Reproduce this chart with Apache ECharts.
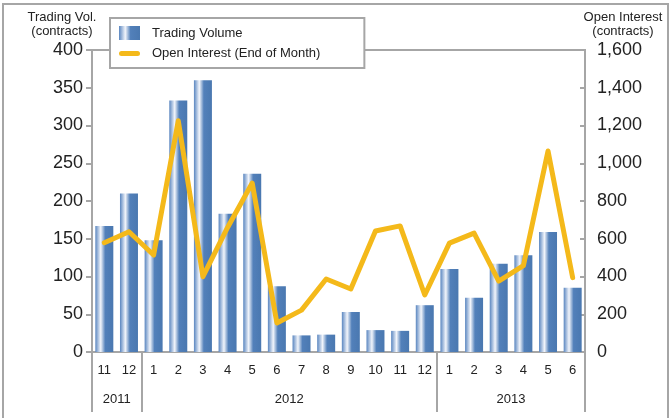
<!DOCTYPE html>
<html>
<head>
<meta charset="utf-8">
<script src="https://cdn.jsdelivr.net/npm/echarts@6/dist/echarts.min.js"></script>
<style>
  html, body { margin: 0; padding: 0; background: #fff; }
  #chart { width: 671px; height: 418px; }
</style>
</head>
<body>
<div id="chart"></div>
<script>
// months from 2011/11 to 2013/6
const months = ['11', '12', '1', '2', '3', '4', '5', '6', '7', '8', '9', '10', '11', '12', '1', '2', '3', '4', '5', '6'];
const tradingVolume = [167, 210, 148, 333, 360, 183, 236, 87, 22, 23, 53, 29, 28, 62, 110, 72, 117, 128, 159, 85];
const openInterest = [579, 637, 514, 1225, 399, 660, 895, 154, 222, 387, 334, 641, 668, 302, 577, 630, 376, 457, 1065, 394];
// year groups: label, first index, last index + 1
const years = ['2011', '2012', '2013'];
const yearStart = [0, 2, 14];
const yearEnd = [2, 14, 20];

const font = '"Liberation Sans", Arial, sans-serif';
const axisGray = '#a6a6a6';
const lineColor = '#f4b91a';

const yearCenters = years.map((y, i) => (yearStart[i] + yearEnd[i]) / 2);
const yearBounds = [0].concat(yearEnd);

const barGradient = new echarts.graphic.LinearGradient(0, 0, 1, 0, [
  { offset: 0, color: '#5a86c0' },
  { offset: 0.3, color: '#f2f5fb' },
  { offset: 0.55, color: '#5280ba' },
  { offset: 1, color: '#4a78b0' }
]);

let myChart = echarts.init(document.getElementById('chart'));
let option = {
  animation: false,
  textStyle: { fontFamily: font },
  graphic: [
    {
      type: 'rect',
      shape: { x: 3, y: 4, width: 665, height: 430 },
      style: { fill: 'none', stroke: axisGray, lineWidth: 2 },
      silent: true,
      z: -1
    }
  ],
  grid: {
    left: 92,
    right: 86,
    top: 50,
    bottom: 66,
    show: true,
    borderColor: axisGray,
    borderWidth: 2
  },
  legend: {
    left: 110,
    top: 18,
    orient: 'vertical',
    backgroundColor: '#fff',
    borderColor: axisGray,
    borderWidth: 2,
    padding: [8, 44, 8, 9],
    itemGap: 7,
    itemWidth: 21,
    itemHeight: 14,
    textStyle: { fontSize: 13, color: '#222', fontFamily: font, padding: [0, 0, 0, 7] },
    data: [
      { name: 'Trading Volume', icon: 'rect' },
      {
        name: 'Open Interest (End of Month)',
        icon: 'path://M2.5,0 L18.5,0 A2.5,2.5 0 0 1 18.5,5 L2.5,5 A2.5,2.5 0 0 1 2.5,0 Z',
        itemStyle: { color: lineColor, borderWidth: 0 }
      }
    ],
    z: 10
  },
  xAxis: [
    {
      type: 'category',
      data: months,
      axisLine: { lineStyle: { color: axisGray, width: 2 } },
      axisTick: { interval: 0, length: 30, lineStyle: { color: axisGray, width: 2 } },
      axisLabel: { interval: 0, margin: 12, fontSize: 13, color: '#222' }
    },
    {
      type: 'value',
      min: 0,
      max: months.length,
      position: 'bottom',
      axisLine: { show: false },
      splitLine: { show: false },
      axisTick: {
        show: true,
        length: 60,
        customValues: yearBounds,
        lineStyle: { color: axisGray, width: 2 }
      },
      axisLabel: {
        customValues: yearCenters,
        margin: 41,
        fontSize: 13,
        color: '#222',
        formatter: function (v) {
          const i = yearCenters.indexOf(v);
          return i >= 0 ? years[i] : '';
        }
      }
    }
  ],
  yAxis: [
    {
      type: 'value',
      min: 0,
      max: 400,
      interval: 50,
      name: 'Trading Vol.\n(contracts)',
      nameLocation: 'end',
      nameGap: 12,
      nameTextStyle: { fontSize: 13, color: '#222', lineHeight: 14, align: 'center', padding: [0, 60, 0, 0] },
      axisLine: { show: true, lineStyle: { color: axisGray, width: 2 } },
      axisTick: { show: true, length: 6, lineStyle: { color: axisGray, width: 2 } },
      axisLabel: { margin: 9, fontSize: 18, color: '#222' },
      splitLine: { show: false }
    },
    {
      type: 'value',
      min: 0,
      max: 1600,
      interval: 200,
      name: 'Open Interest\n(contracts)',
      nameLocation: 'end',
      nameGap: 12,
      nameTextStyle: { fontSize: 13, color: '#222', lineHeight: 14, align: 'center', padding: [0, 0, 0, 76] },
      axisLine: { show: true, lineStyle: { color: axisGray, width: 2 } },
      axisTick: { show: true, inside: true, length: 5, lineStyle: { color: axisGray, width: 2 } },
      axisLabel: { margin: 12, fontSize: 18, color: '#222' },
      splitLine: { show: false }
    }
  ],
  series: [
    {
      name: 'Trading Volume',
      type: 'bar',
      data: tradingVolume,
      barCategoryGap: '27%',
      itemStyle: { color: barGradient }
    },
    {
      name: 'Open Interest (End of Month)',
      type: 'line',
      yAxisIndex: 1,
      data: openInterest,
      symbol: 'none',
      lineStyle: { color: lineColor, width: 5, cap: 'round', join: 'round' },
      itemStyle: { color: lineColor },
      z: 5
    }
  ]
};
myChart.setOption(option);
window.addEventListener('resize', () => {
  myChart.resize();
});
</script>
</body>
</html>
